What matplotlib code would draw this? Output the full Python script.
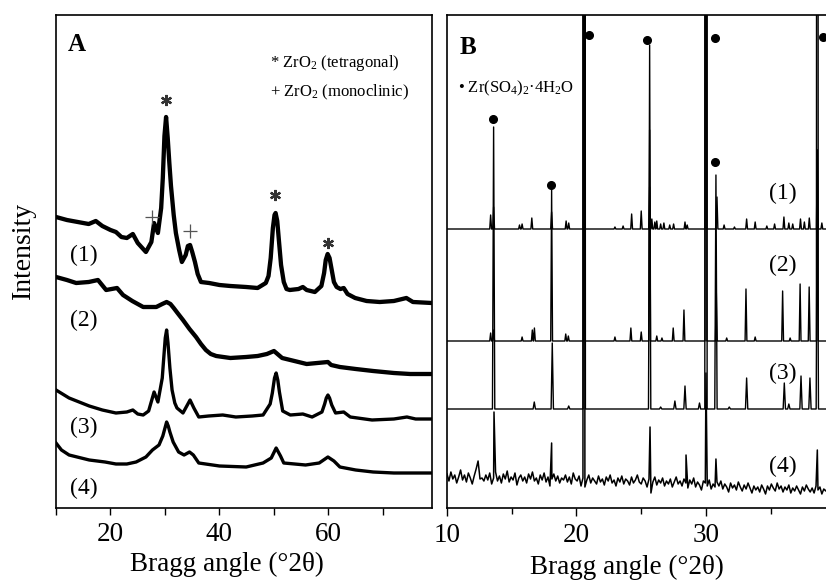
import numpy as np
import matplotlib
matplotlib.use('Agg')
import matplotlib.pyplot as plt

plt.rcParams['font.family'] = ['Liberation Serif', 'DejaVu Serif']
plt.rcParams['mathtext.fontset'] = 'custom'
plt.rcParams['mathtext.rm'] = 'Liberation Serif'
plt.rcParams['mathtext.it'] = 'Liberation Serif:italic'
plt.rcParams['mathtext.bf'] = 'Liberation Serif:bold'

# ---------------- Panel A data (2theta, intensity a.u.) ----------------
a1_x = [10.0, 12.0, 14.0, 16.0, 17.3, 18.5, 20.0, 21.0, 22.0, 23.0, 24.1, 25.0, 26.5, 27.5, 28.0,
        28.7, 29.3, 29.6, 29.9, 30.2, 30.5, 30.8, 31.1, 31.6, 32.0, 32.6, 33.1, 33.8, 34.2, 34.6,
        35.0, 35.5, 36.0, 36.6, 38.1, 40.0, 42.0, 44.9, 47.0, 48.5, 49.0, 49.4, 49.8, 50.1, 50.3,
        50.6, 50.9, 51.3, 51.8, 52.3, 52.9, 54.5, 55.3, 56.0, 57.5, 58.7, 59.2, 59.5, 59.85, 60.2,
        60.6, 61.0, 61.5, 62.2, 62.8, 63.5, 64.9, 67.0, 69.4, 72.0, 74.3, 75.5, 79.0]
a1_y = [291, 288, 286, 284, 287, 282, 278, 276, 271, 270, 274, 265, 256, 266, 285,
        275, 300, 330, 372, 391, 370, 345, 322, 293, 275, 258, 246, 253, 262, 263,
        256, 246, 234, 226, 225, 223, 222, 221, 220, 225, 232, 250, 280, 293, 295,
        287, 268, 243, 226, 219, 218, 219, 221, 218, 216, 222, 235, 248, 254, 250,
        238, 226, 221, 219, 220, 214, 210, 207, 206, 207, 210, 206, 205]

a2_x = [10.0, 12.0, 13.7, 16.0, 17.7, 19.2, 21.2, 22.3, 24.0, 26.0, 28.4, 29.5, 30.3, 31.0, 31.6,
        32.3, 33.3, 34.5, 35.7, 36.6, 37.5, 38.4, 39.4, 42.0, 44.9, 47.0, 48.7, 50.0, 51.5, 53.0,
        56.0, 59.9, 60.5, 62.1, 65.0, 68.2, 72.0, 75.0, 79.0]
a2_y = [231, 228, 225, 226, 228, 218, 220, 213, 207, 201, 201, 204, 206, 204, 200,
        195, 188, 179, 171, 164, 158, 154, 152, 150, 151, 152, 154, 157, 150, 148,
        144, 146, 143, 141, 139, 137, 135, 134, 134]

a3_x = [10.0, 12.4, 16.1, 18.5, 21.0, 23.0, 24.1, 25.0, 26.0, 27.0, 28.0, 28.7, 29.5, 29.8, 30.05,
        30.3, 30.55, 30.9, 31.3, 31.8, 32.2, 33.3, 34.0, 34.6, 35.3, 36.2, 38.0, 40.6, 43.0, 46.0,
        48.0, 49.3, 49.7, 50.1, 50.4, 50.7, 51.0, 51.6, 53.0, 55.3, 57.0, 58.8, 59.3, 59.6, 59.9,
        60.2, 60.6, 61.3, 62.8, 64.0, 68.0, 72.0, 74.4, 76.0, 79.0]
a3_y = [118, 110, 102, 98, 95, 96, 98, 94, 93, 97, 116, 106, 130, 152, 170,
        178, 165, 140, 118, 105, 100, 95, 102, 108, 100, 91, 92, 93, 91, 92,
        93, 104, 115, 130, 135, 128, 116, 97, 93, 94, 91, 96, 104, 110, 113,
        110, 103, 95, 96, 91, 88, 89, 91, 89, 89]

a4_x = [10.0, 11.0, 12.4, 16.1, 19.0, 21.0, 23.0, 24.7, 26.5, 27.7, 28.9, 29.6, 30.0, 30.3, 30.6,
        30.9, 31.5, 32.5, 33.5, 34.5, 35.2, 36.2, 40.0, 44.9, 48.0, 49.5, 50.4, 51.2, 51.8, 55.8,
        58.3, 59.9, 61.0, 62.1, 65.0, 68.2, 72.0, 79.0]
a4_y = [65, 58, 53, 48, 46, 44, 44, 46, 51, 58, 63, 72, 80, 86, 82,
        76, 66, 56, 53, 56, 53, 45, 42, 41, 45, 50, 60, 52, 45, 43,
        45, 51, 47, 41, 38, 36, 35, 35]

a_tetra_pos = [30.2, 50.2, 59.9]
a_tetra_int = [408, 313, 265]
a_mono_pos = [27.6, 34.6]
a_mono_int = [291, 277]
a_labels = ['(1)', '(2)', '(3)', '(4)']
a_label_int = [253, 188, 81, 20]

# ---------------- Panel B data ----------------
b1_base = 279
b1_pos = [13.37, 13.6, 15.6, 15.8, 16.55, 18.08, 19.2, 19.4, 20.6, 22.97, 23.6, 24.26, 25.0, 25.65,
          25.82, 26.05, 26.2, 26.5, 26.75, 27.2, 27.5, 28.38, 28.55, 30.0, 30.85, 31.4, 32.2, 33.14,
          33.8, 34.7, 35.3, 36.02, 36.4, 36.7, 37.3, 37.6, 37.98, 38.6, 38.95]
b1_top = [293, 301, 283, 284, 290, 296, 287, 285, 3000, 281, 282, 294, 297, 321,
          289, 286, 287, 284, 285, 283, 284, 286, 283, 3000, 311, 283, 281, 289,
          286, 282, 284, 291, 285, 284, 289, 286, 290, 358, 285]

b2_base = 167
b2_pos = [13.37, 13.6, 15.8, 16.59, 16.75, 18.08, 19.17, 19.37, 20.6, 22.97, 24.2, 25.0, 25.65,
          26.2, 26.6, 27.47, 28.3, 30.0, 30.8, 31.6, 33.09, 33.8, 35.92, 36.5, 37.27, 37.97, 38.6]
b2_top = [175, 178, 171, 178, 180, 318, 174, 172, 3000, 171, 180, 176, 463,
          172, 170, 180, 198, 3000, 215, 170, 219, 171, 217, 170, 224, 221, 3000]

b3_base = 99
b3_pos = [13.6, 16.74, 18.13, 19.4, 20.6, 25.65, 26.5, 27.6, 28.38, 29.5, 30.0, 30.77, 31.8,
          33.14, 36.05, 36.4, 37.34, 38.03, 38.6]
b3_top = [381, 106, 165, 102, 3000, 378, 101, 107, 122, 105, 3000, 333, 101,
          130, 125, 104, 132, 130, 358]

b4_start = 10.0
b4_step = 0.15
b4_noise = [34, 27, 36, 29, 33, 25, 31, 38, 28, 33, 26, 35, 30, 24, 32, 39, 47, 29, 30, 27,
            33, 28, 35, 24, 30, 36, 27, 32, 25, 34, 29, 37, 26, 31, 28, 35, 23, 30, 33, 27,
            31, 25, 34, 29, 36, 27, 30, 24, 33, 28, 35, 26, 31, 22, 29, 34, 27, 32, 25, 30,
            28, 33, 26, 31, 24, 35, 29, 27, 32, 22, 30, 21, 28, 33, 25, 30, 27, 24, 32, 26,
            29, 23, 31, 27, 33, 25, 28, 22, 30, 26, 32, 24, 29, 27, 23, 31, 25, 28, 33, 26,
            24, 30, 27, 21, 29, 15, 26, 31, 23, 28, 25, 30, 22, 27, 24, 29, 21, 26, 31, 24,
            27, 22, 29, 25, 20, 28, 24, 30, 21, 26, 23, 18, 27, 25, 22, 28, 19, 24, 21, 26,
            22, 27, 19, 24, 21, 16, 25, 20, 23, 18, 26, 21, 17, 23, 19, 25, 20, 15, 22, 18,
            21, 16, 23, 19, 14, 22, 18, 24, 20, 17, 25, 19, 22, 16, 21, 18, 23, 15, 20, 17,
            22, 18, 14, 21, 17, 23, 19, 16, 20, 15, 22, 18, 21, 14, 19, 17, 20]
b4_pos = [13.63, 18.08, 20.55, 25.68, 28.46, 30.0, 30.77, 38.6]
b4_top = [96, 65, 3000, 81, 53, 135, 49, 58]

b_dot_pos = [13.58, 18.0, 20.97, 25.47, 30.7, 30.7, 39.0]
b_dot_int = [389, 323, 473, 468, 470, 346, 471]
b_labels = ['(1)', '(2)', '(3)', '(4)']
b_label_int = [315, 243, 135, 42]


def stick_pattern(base, pos, top, w, x0=10.0, x1=39.6):
    xs = [x0]
    ys = [base]
    for p, t in sorted(zip(pos, top)):
        xs += [p - w, p, p + w]
        ys += [base, t, base]
    xs.append(x1)
    ys.append(base)
    return np.array(xs), np.array(ys)


fig = plt.figure(figsize=(8.26, 5.83), dpi=100)
W, H = 826.0, 583.0
axA = fig.add_axes([56 / W, 75 / H, 376 / W, 493 / H])
axB = fig.add_axes([447 / W, 75 / H, 379 / W, 493 / H])

# ---- Panel A ----
axA.plot(a1_x, a1_y, color='black', lw=3.1, solid_joinstyle='round')
axA.plot(a2_x, a2_y, color='black', lw=3.1, solid_joinstyle='round')
axA.plot(a3_x, a3_y, color='black', lw=2.4, solid_joinstyle='round')
axA.plot(a4_x, a4_y, color='black', lw=2.4, solid_joinstyle='round')
axA.plot(a_tetra_pos, a_tetra_int, linestyle='none', marker=(6, 2, 0), markersize=8,
         markeredgewidth=1.6, color='#333333')
axA.plot(a_mono_pos, a_mono_int, linestyle='none', marker='+', markersize=10,
         markeredgewidth=0.9, color='#555555')
for lab, yi in zip(a_labels, a_label_int):
    axA.text(15.1, yi, lab, fontsize=17, ha='center', va='center')
axA.text(0.056, 0.94, 'A', transform=axA.transAxes, fontsize=18, fontweight='bold',
         ha='center', va='center')
axA.text(0.569, 0.902, '* ZrO$_2$ (tetragonal)', transform=axA.transAxes, fontsize=12,
         ha='left', va='center')
axA.text(0.569, 0.843, '+ ZrO$_2$ (monoclinic)', transform=axA.transAxes, fontsize=12,
         ha='left', va='center')
axA.set_xlim(10, 79)
axA.set_ylim(0, 493)
axA.set_xticks([20, 40, 60])
axA.set_xticks([10, 30, 50, 70], minor=True)
axA.set_yticks([])
axA.tick_params(axis='x', which='both', direction='out', length=5, width=1.0,
                labelsize=19.5, pad=5)
axA.set_xlabel('Bragg angle (°2θ)', fontsize=19.5)
axA.xaxis.set_label_coords(0.455, -0.088)
for s in axA.spines.values():
    s.set_linewidth(1.2)

# ---- Panel B ----
bx1, by1 = stick_pattern(b1_base, b1_pos, b1_top, 0.07)
bx2, by2 = stick_pattern(b2_base, b2_pos, b2_top, 0.07)
bx3, by3 = stick_pattern(b3_base, b3_pos, b3_top, 0.09)
b4x_base = b4_start + b4_step * np.arange(len(b4_noise))
bx4 = np.concatenate([b4x_base, np.array(b4_pos)])
by4 = np.concatenate([np.array(b4_noise, dtype=float), np.array(b4_top, dtype=float)])
order = np.argsort(bx4, kind='stable')
bx4, by4 = bx4[order], by4[order]

axB.plot(bx1, by1, color='black', lw=1.0)
axB.plot(bx2, by2, color='black', lw=1.0)
axB.plot(bx3, by3, color='black', lw=1.0)
axB.plot(bx4, by4, color='black', lw=1.1)
axB.plot(b_dot_pos, b_dot_int, linestyle='none', marker='o', markersize=5.5, color='black')
for lab, yi in zip(b_labels, b_label_int):
    axB.text(35.95, yi, lab, fontsize=17, ha='center', va='center')
axB.text(0.0567, 0.935, 'B', transform=axB.transAxes, fontsize=18, fontweight='bold',
         ha='center', va='center')
axB.text(0.030, 0.852, '• Zr(SO$_4$)$_2$·4H$_2$O', transform=axB.transAxes, fontsize=12,
         ha='left', va='center')
axB.set_xlim(10, 39.27)
axB.set_ylim(0, 493)
axB.set_xticks([10, 20, 30])
axB.set_xticks([15, 25, 35], minor=True)
axB.set_yticks([])
axB.tick_params(axis='x', which='major', direction='out', length=6, width=1.0,
                labelsize=19.5, pad=5)
axB.tick_params(axis='x', which='minor', direction='out', length=4, width=1.0)
axB.set_xlabel('Bragg angle (°2θ)', fontsize=19.5)
axB.xaxis.set_label_coords(0.476, -0.095)
axB.spines['right'].set_visible(False)
for s in ['left', 'top', 'bottom']:
    axB.spines[s].set_linewidth(1.2)

fig.text(23 / W, 1 - 250 / H, 'Intensity', rotation=90, fontsize=20, ha='center', va='center')

fig.savefig('out.png', dpi=100)
